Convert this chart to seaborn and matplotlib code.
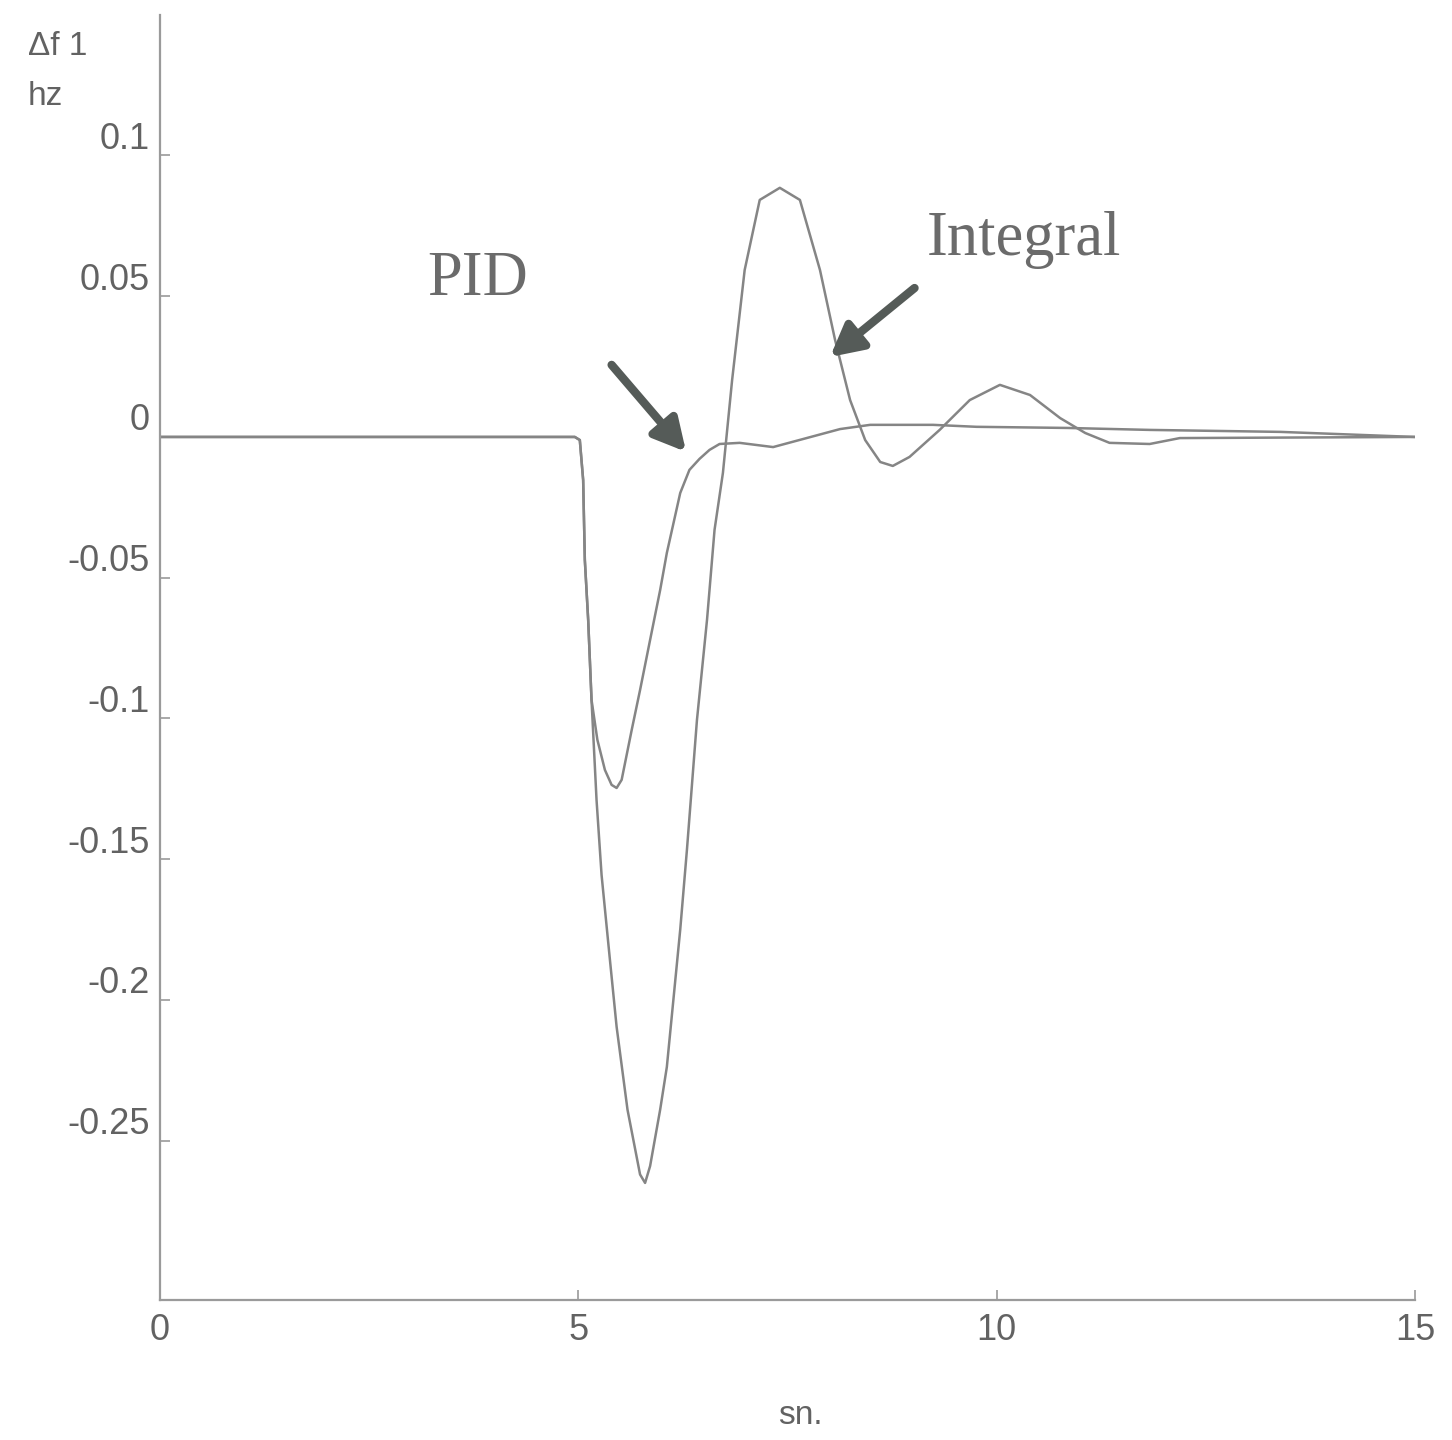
import numpy as np
import pandas as pd
import seaborn as sns
import matplotlib.pyplot as plt
from matplotlib.transforms import ScaledTranslation

# values (time in s, frequency deviation in Hz)
integral_t = [0, 4.96, 5.02, 5.06, 5.08, 5.12, 5.16, 5.22, 5.28, 5.38, 5.46, 5.59, 5.74, 5.80,
              5.86, 5.98, 6.06, 6.22, 6.30, 6.42, 6.54, 6.63, 6.73, 6.84, 6.99, 7.17, 7.41,
              7.65, 7.89, 8.07, 8.25, 8.43, 8.61, 8.76, 8.96, 9.32, 9.68, 10.04, 10.40, 10.76,
              11.06, 11.35, 11.83, 12.19, 15]
integral_df = [0, 0, -0.0011, -0.0153, -0.0437, -0.065, -0.0934, -0.129, -0.1556, -0.1858,
               -0.2096, -0.239, -0.262, -0.265, -0.259, -0.239, -0.2238, -0.175, -0.1467,
               -0.1005, -0.065, -0.033, -0.0128, 0.0202, 0.0593, 0.0842, 0.0885, 0.0842,
               0.0593, 0.0345, 0.0131, -0.0011, -0.0089, -0.0103, -0.0071, 0.0025, 0.0131,
               0.0185, 0.0149, 0.0067, 0.0014, -0.0021, -0.0025, -0.0004, 0]

pid_t = [0, 4.96, 5.02, 5.06, 5.08, 5.12, 5.16, 5.23, 5.32, 5.40, 5.46, 5.52, 5.64, 5.74,
         5.86, 5.98, 6.06, 6.22, 6.33, 6.45, 6.57, 6.69, 6.93, 7.33, 7.73, 8.13, 8.49, 9.24,
         9.76, 10.84, 11.83, 13.39, 15]
pid_df = [0, 0, -0.0011, -0.0153, -0.0437, -0.065, -0.0934, -0.1076, -0.1183, -0.1236,
          -0.1247, -0.1218, -0.1041, -0.0899, -0.0721, -0.0544, -0.0412, -0.0199, -0.0117,
          -0.0078, -0.0046, -0.0025, -0.0021, -0.0036, -0.0004, 0.0028, 0.0043, 0.0043,
          0.0036, 0.0032, 0.0025, 0.0018, 0]

y_ticks = [0.1, 0.05, 0, -0.05, -0.1, -0.15, -0.2, -0.25]
y_ticklabels = ["0.1", "0.05", "0", "-0.05", "-0.1", "-0.15", "-0.2", "-0.25"]
x_ticks = [0, 5, 10, 15]

data = pd.concat([
    pd.DataFrame({"t": integral_t, "df": integral_df, "ctrl": "Integral"}),
    pd.DataFrame({"t": pid_t, "df": pid_df, "ctrl": "PID"}),
])

sns.set_style("white")
plt.rcParams["font.family"] = ["Liberation Sans", "DejaVu Sans"]

fig = plt.figure(figsize=(14.52, 14.4), dpi=100)
ax = fig.add_axes([0.110, 0.0972, 0.8645, 0.8924])

sns.lineplot(data=data, x="t", y="df", hue="ctrl", palette=["#858585", "#858585"],
             linewidth=1.8, legend=False, sort=False, estimator=None, ax=ax)

ax.set_xlim(0, 15)
ax.set_ylim(-0.3066, 0.1499)
ax.set_yticks(y_ticks)
ax.set_yticklabels(y_ticklabels)
ax.set_xticks(x_ticks)
ax.set_xlabel("")
ax.set_ylabel("")

for s in ["top", "right"]:
    ax.spines[s].set_visible(False)
for s in ["left", "bottom"]:
    ax.spines[s].set_color("#9a9a9a")
    ax.spines[s].set_linewidth(1.6)

ax.tick_params(axis="both", direction="in", length=7, width=1.2, color="#9a9a9a",
               labelsize=26, labelcolor="#626262", bottom=True, left=True)
ax.tick_params(axis="y", pad=7)
ax.tick_params(axis="x", pad=9)

# tick labels of the y axis sit a little above their ticks
shift = ScaledTranslation(0, 0.2, fig.dpi_scale_trans)
for lbl in ax.get_yticklabels():
    lbl.set_transform(lbl.get_transform() + shift)

fig.text(0.019, 0.968, "\u0394f 1", fontsize=24, color="#626262", ha="left", va="center")
fig.text(0.019, 0.933, "hz", fontsize=24, color="#626262", ha="left", va="center")
fig.text(0.551, 0.017, "sn.", fontsize=24, color="#626262", ha="center", va="center")

ax.text(3.80, 0.0558, "PID", fontsize=45, family="Liberation Serif", color="#6b6b6b",
        ha="center", va="center")
ax.text(10.33, 0.070, "Integral", fontsize=45, family="Liberation Serif", color="#6b6b6b",
        ha="center", va="center")

arrow_style = dict(arrowstyle="-|>,head_length=1.9,head_width=1.0", color="#555b58",
                   lw=6, shrinkA=0, shrinkB=0)
ax.annotate("", xy=(6.29, -0.0053), xytext=(5.40, 0.0256), arrowprops=arrow_style)
ax.annotate("", xy=(8.01, 0.0284), xytext=(9.02, 0.0529), arrowprops=arrow_style)

fig.savefig("out.png", dpi=100, facecolor="white")
